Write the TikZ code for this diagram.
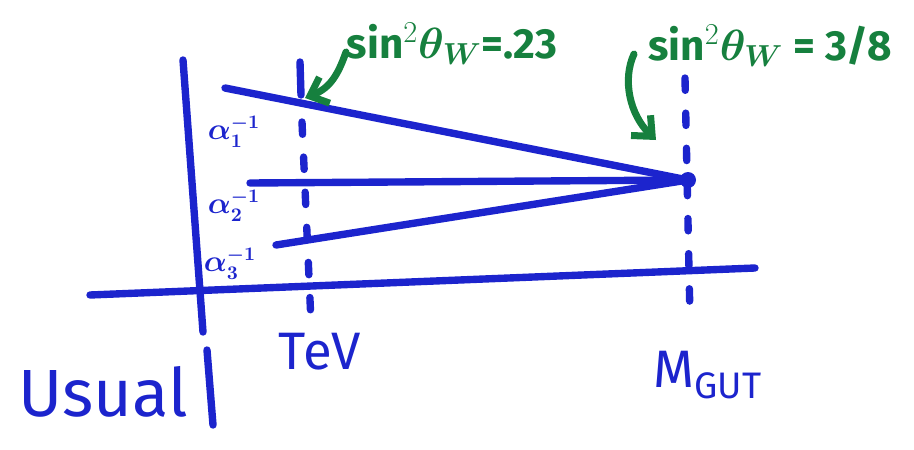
\documentclass[tikz,border=0pt]{standalone}
\usepackage{bm}
\usepackage{fontspec}
\setsansfont{Fira Sans}
\usetikzlibrary{arrows.meta}
\definecolor{penblue}{RGB}{28,36,205}
\definecolor{pengreen}{RGB}{22,128,62}
\tikzset{
  ink/.style={penblue,line width=4.2pt,line cap=round},
  guide/.style={penblue,line width=4.2pt,line cap=round,dash pattern=on 7pt off 13pt},
  hint/.style={pengreen,line width=4pt,line cap=round,-{Straight Barb[length=9pt,width=16pt,line width=4pt]}},
  note/.style={pengreen,font=\sffamily\bfseries\fontsize{24}{26}\selectfont},
  lab/.style={penblue,font=\sffamily\fontsize{30}{32}\selectfont},
  coup/.style={penblue,font=\fontsize{16}{18}\selectfont}
}
\begin{document}
\begin{tikzpicture}[x=0.02cm,y=-0.02cm]
\useasboundingbox (0,0) rectangle (914,450);

% axes
\coordinate (vtop) at (183,60);
\coordinate (vbot) at (203,332);
\coordinate (hleft) at (90,295);
\coordinate (hright) at (755,268);
\draw[ink] (vtop) -- (vbot);
\draw[ink] (hleft) -- (hright);

% scale markers
\coordinate (tevtop) at (300,62);
\coordinate (tevbot) at (311,322);
\coordinate (guttop) at (685,78);
\coordinate (gutbot) at (690,318);
\draw[ink] (tevtop) -- (301,95);
\draw[guide] (302,122) -- (tevbot);
\draw[guide] (guttop) -- (gutbot);

% running couplings
\coordinate (meet) at (688,180);
\coordinate (one) at (225,88);
\coordinate (two) at (250,183);
\coordinate (three) at (276,245);
\draw[ink] (one) -- (meet);
\draw[ink] (two) -- (meet);
\draw[ink] (three) -- (meet);
\fill[penblue] (meet) circle (8);

\node[coup] (a1) at (234,132) {$\bm{\alpha_1^{-1}}$};
\node[coup] (a2) at (234,206) {$\bm{\alpha_2^{-1}}$};
\node[coup] (a3) at (230,264) {$\bm{\alpha_3^{-1}}$};

% axis labels
\node[lab] (tev) at (320,352) {TeV};
\node[lab] (mgut) at (708,375) {M\textsubscript{GUT}};
\node[penblue,font=\sffamily\fontsize{38}{40}\selectfont] (usual) at (103,392) {Usual};
\coordinate (bartop) at (207,350);
\coordinate (barbot) at (213,425);
\draw[ink] (bartop) -- (barbot);

% weak angle notes
\node[note] (low) at (452,44) {sin$^2\bm{\theta_W}$=.23};
\node[note] (high) at (770,46) {sin$^2\bm{\theta_W}$ = 3/8};
\draw[hint] (346,52) .. controls (338,75) and (330,88) .. (305,98);
\draw[hint] (634,54) .. controls (622,80) and (630,115) .. (656,140);
\end{tikzpicture}
\end{document}
